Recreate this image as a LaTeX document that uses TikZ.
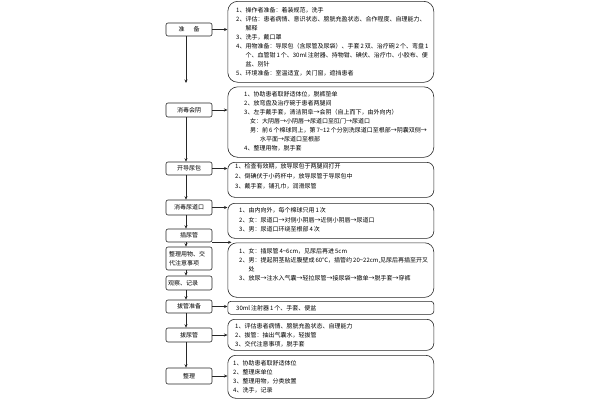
\documentclass[tikz,border=0pt]{standalone}
\usepackage{fontspec}
\setmainfont{Noto Sans CJK SC}
\usetikzlibrary{arrows.meta,calc}
\begin{document}
\begin{tikzpicture}[x=1pt,y=-1pt,
  lc/.style={draw=black!85, line width=0.6pt},
  lbox/.style={lc, rounded corners=2pt, minimum width=46pt, inner sep=0pt, font=\fontsize{6}{8}\selectfont},
  rbox/.style={lc, rounded corners=#1, minimum width=206pt, inner sep=0pt, anchor=north west},
  rtxt/.style={anchor=base west, inner sep=0pt, text width=200pt, align=left},
  arr/.style={lc, -{Stealth[length=3.5pt,width=3pt]}},
]
\fill[white] (0,0) rectangle (600,400);
\useasboundingbox (0,0) rectangle (600,400);

% left column
\node[lbox, minimum height=13pt] (L1) at (189,29.5) {准\hspace{9pt}备};
\node[lbox, minimum height=14pt] (L2) at (189,110) {消毒会阴};
\node[lbox, minimum height=13pt] (L3) at (189,168.5) {开导尿包};
\node[lbox, minimum height=15pt] (L4) at (189,207.5) {消毒尿道口};
\node[lbox, minimum height=13pt] (L5) at (189,235.5) {插尿管};
\node[lbox, minimum height=23pt, text width=40pt, align=left, font=\fontsize{6}{9.5}\selectfont] (L6) at (189,258.5) {整理用物、交\\代注意事项};
\node[lbox, minimum height=14pt, text width=42pt, align=left] (L7) at (189,283) {观察、记录};
\node[lbox, minimum height=13pt] (L8) at (189,306.5) {拔管准备};
\node[lbox, minimum height=14pt] (L9) at (189,335) {拔尿管};
\node[lbox, minimum height=16pt] (L10) at (189,376) {整理};

% right boxes
\node[rbox=10pt, minimum height=81pt] (r1) at (227.5,1) {};
\node[rbox=10pt, minimum height=70.5pt] (r2) at (227.5,86.5) {};
\node[rbox=7pt, minimum height=35pt] (r3) at (227.5,162) {};
\node[rbox=7pt, minimum height=35pt] (r4) at (227.5,203) {};
\node[rbox=9pt, minimum height=54.5pt] (r5) at (227.5,242.5) {};
\node[rbox=3pt, minimum height=13pt] (r6) at (227.5,301) {};
\node[rbox=7pt, minimum height=31pt] (r7) at (227.5,319) {};
\node[rbox=8pt, minimum height=43pt] (r8) at (227.5,355) {};

% texts
\node[rtxt, font=\fontsize{6}{9}\selectfont] (t1) at (236,12.2) {1、操作者准备：着装规范，洗手\\
2、评估：患者病情、意识状态、膀胱充盈状态、合作程度、自理能力、\\
\phantom{2、}解释\\
3、洗手，戴口罩\\
4、用物准备：导尿包（含尿管及尿袋）、手套\,2\,双、治疗碗\,2\,个、弯盘\,1\\
\phantom{4、}个、血管钳\,1\,个、30ml\,注射器、持物钳、碘伏、治疗巾、小胶布、便\\
\phantom{4、}盆、别针\\
5、环境准备：室温适宜，关门窗，遮挡患者};

\node[rtxt, font=\fontsize{6}{9}\selectfont] (t2) at (244,96.9) {1、协助患者取舒适体位，脱裤垫单\\
2、放弯盘及治疗碗于患者两腿间\\
3、左手戴手套，清洁阴阜→会阴（自上而下，由外向内）\\
\hspace*{6pt}女：大阴唇→小阴唇→尿道口至肛门→尿道口\\
\hspace*{6pt}男：前\,6\,个棉球同上，第\,7\textasciitilde12\,个分别洗尿道口至根部→阴囊双侧→\\
\hspace*{16pt}水平面→尿道口至根部\\
4、整理用物，脱手套};

\node[rtxt, font=\fontsize{6}{10}\selectfont] (t3) at (235,168.9) {1、检查有效期，放导尿包于两腿间打开\\
2、倒碘伏于小药杯中，放导尿管于导尿包中\\
3、戴手套，铺孔巾，润滑尿管};

\node[rtxt, font=\fontsize{6}{9.2}\selectfont] (t4) at (239,212.9) {1、由内向外，每个棉球只用\,1\,次\\
2、女：尿道口→对侧小阴唇→近侧小阴唇→尿道口\\
3、男：尿道口环绕至根部\,4\,次};

\node[rtxt, font=\fontsize{6}{8.9}\selectfont] (t5) at (239,253.9) {1、女：插尿管\,4\textasciitilde6cm，见尿后再进\,5cm\\
2、男：提起阴茎贴近腹壁成\,60°C，插管约\,20\textasciitilde22cm,见尿后再插至开叉\\
\phantom{2、}处\\
3、放尿→注水入气囊→轻拉尿管→接尿袋→撤单→脱手套→穿裤};

\node[rtxt, font=\fontsize{6}{9}\selectfont] (t6) at (236,310.2) {30ml\,注射器\,1\,个、手套、便盆};

\node[rtxt, font=\fontsize{6}{8.8}\selectfont] (t7) at (235,328.9) {1、评估患者病情、膀胱充盈状态、自理能力\\
2、拔管：抽出气囊水，轻拔管\\
3、交代注意事项，脱手套};

\node[rtxt, font=\fontsize{6}{8.9}\selectfont] (t8) at (233,365.5) {1、协助患者取舒适体位\\
2、整理床单位\\
3、整理用物，分类放置\\
4、洗手，记录};

% vertical connectors
\coordinate (c1) at (186,83);
\draw[arr] ([xshift=-3pt]L1.south) -- (c1);
\draw[arr] ([xshift=-3pt]L2.south) -- ([xshift=-3pt]L3.north);
\draw[arr] ([xshift=-3pt]L3.south) -- ([xshift=-3pt]L4.north);
\draw[arr] ([xshift=-3pt]L4.south) -- ([xshift=-3pt]L5.north);
\draw[arr] ([xshift=-3pt]L5.south) -- ([xshift=-3pt]L6.north);
\draw[arr] ([xshift=-3pt]L6.south) -- ([xshift=-3pt]L7.north);
\draw[arr] ([xshift=-3pt]L7.south) -- ([xshift=-3pt]L8.north);
\draw[arr] ([xshift=-3pt]L8.south) -- ([xshift=-3pt]L9.north);
\draw[arr] ([xshift=-3pt]L9.south) -- ([xshift=-3pt]L10.north);

% horizontal connectors
\draw[arr] (L1.east) -- (L1.east -| r1.west);
\draw[arr] (L2.east) -- (L2.east -| r2.west);
\draw[arr] (L3.east) -- (L3.east -| r3.west);
\draw[arr] (L4.east) -- (L4.east -| r4.west);
\draw[arr] (L5.south east) -- ($(L5.south east -| r5.west)+(4,0)$);
\draw[arr] (L8.east) -- (L8.east -| r6.west);
\draw[arr] (L9.east) -- (L9.east -| r7.west);
\draw[arr] (L10.east) -- (L10.east -| r8.west);
\end{tikzpicture}
\end{document}
